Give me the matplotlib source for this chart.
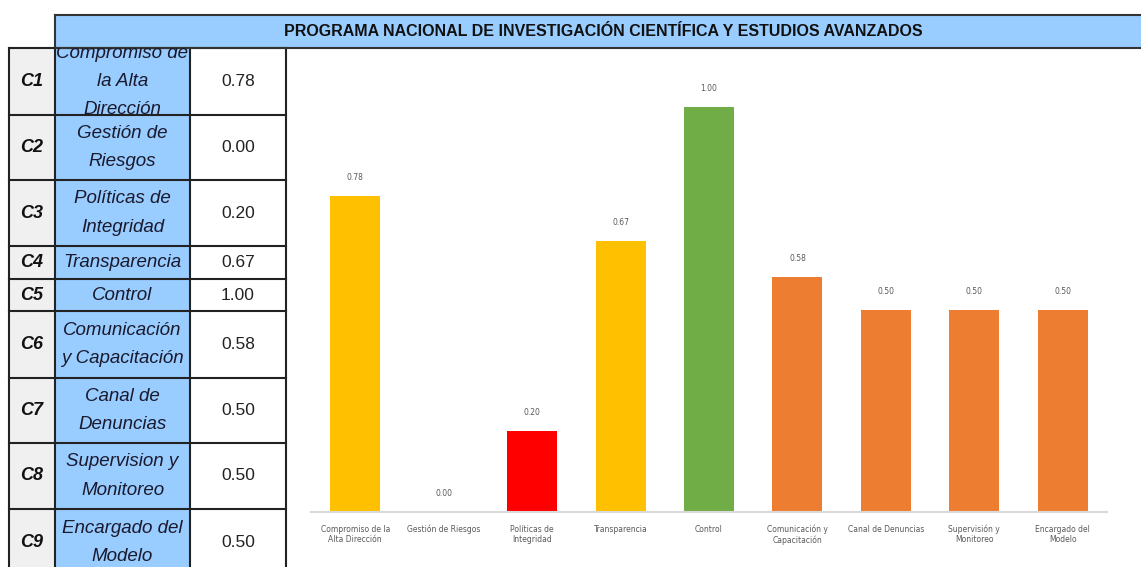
import numpy as np
import matplotlib.pyplot as plt
from matplotlib.patches import Rectangle
from matplotlib.transforms import Bbox

titulo = 'PROGRAMA NACIONAL DE INVESTIGACIÓN CIENTÍFICA Y ESTUDIOS AVANZADOS'
codigos = ['C1', 'C2', 'C3', 'C4', 'C5', 'C6', 'C7', 'C8', 'C9']
nombres_tabla = ['Compromiso de\nla Alta\nDirección', 'Gestión de\nRiesgos', 'Políticas de\nIntegridad',
                 'Transparencia', 'Control', 'Comunicación\ny Capacitación', 'Canal de\nDenuncias',
                 'Supervision y\nMonitoreo', 'Encargado del\nModelo']
etiquetas = ['Compromiso de la\nAlta Dirección', 'Gestión de Riesgos', 'Políticas de\nIntegridad',
             'Transparencia', 'Control', 'Comunicación y\nCapacitación', 'Canal de Denuncias',
             'Supervisión y\nMonitoreo', 'Encargado del\nModelo']
valores = [0.78, 0.00, 0.20, 0.67, 1.00, 0.58, 0.50, 0.50, 0.50]
colores = ['#FFC000', '#FFC000', '#FF0000', '#FFC000', '#70AD47',
           '#ED7D31', '#ED7D31', '#ED7D31', '#ED7D31']

W, H = 1141, 567
fig = plt.figure(figsize=(W / 100, H / 100), dpi=100)

# capa de la tabla en pixeles
tab = fig.add_axes([0, 0, 1, 1])
tab.set_xlim(0, W)
tab.set_ylim(H, 0)
tab.axis('off')

narrow = ['Liberation Sans Narrow', 'Liberation Sans', 'DejaVu Sans']
azul = '#99CCFF'

filas = [48, 115, 180, 246, 279, 311, 378, 443, 509, 576]
cols = [9, 55, 190, 286]
for i in range(len(codigos)):
    y0, y1 = filas[i], filas[i + 1]
    yc = (y0 + y1) / 2
    tab.add_patch(Rectangle((cols[0], y0), cols[1] - cols[0], y1 - y0, fc='#F0F0F0', ec='none'))
    tab.add_patch(Rectangle((cols[1], y0), cols[2] - cols[1], y1 - y0, fc=azul, ec='none'))
    tab.text((cols[0] + cols[1]) / 2, yc, codigos[i], ha='center', va='center', fontsize=13,
             fontweight='bold', style='italic', family=narrow, color='#111111')
    t = tab.text((cols[1] + cols[2]) / 2, yc, nombres_tabla[i], ha='center', va='center',
                 fontsize=13.5, style='italic', family=narrow, color='#1a1a2e', linespacing=1.85)
    # recorte del texto a la celda (coordenadas de pantalla)
    t.set_clip_path(None)
    t.set_clip_box(Bbox([[cols[1], H - y1], [cols[2], H - y0]]))
    t.set_clip_on(True)
    tab.text((cols[2] + cols[3]) / 2, yc, f'{valores[i]:.2f}', ha='center', va='center',
             fontsize=12.5, family=narrow, color='#222222')

for y in filas:
    tab.plot([cols[0], cols[3]], [y, y], color='#222222', lw=1.5)
for x in cols:
    tab.plot([x, x], [filas[0], H], color='#222222', lw=1.5)

# cabecera
tab.add_patch(Rectangle((55, 15), W - 55, 33, fc=azul, ec='none'))
tab.plot([55, W], [15, 15], color='#333333', lw=1.5)
tab.plot([55, W], [48, 48], color='#333333', lw=1.5)
tab.plot([55, 55], [15, 48], color='#333333', lw=1.5)
tab.text(603, 31.5, titulo, ha='center', va='center', fontsize=11.5, fontweight='bold',
         family=narrow, color='#111111')

# grafico de barras
x0, x1 = 311, 1107
yb, yt = 512, 60
ax = fig.add_axes([x0 / W, 1 - yb / H, (x1 - x0) / W, (yb - yt) / H])
pos = np.arange(len(valores))
ax.bar(pos, valores, width=0.565, color=colores)
ax.set_xlim(-0.5, len(valores) - 0.5)
ax.set_ylim(0, (yb - yt) / 405)
for p, v in zip(pos, valores):
    ax.annotate(f'{v:.2f}', (p, v), xytext=(0, 10), textcoords='offset points', ha='center',
                va='bottom', fontsize=5.5, color='#595959')
ax.set_xticks(pos)
ax.set_xticklabels(etiquetas, fontsize=5.5, color='#595959', va='top')
ax.tick_params(axis='x', length=0, pad=9)
ax.set_yticks([])
for s in ['top', 'right', 'left']:
    ax.spines[s].set_visible(False)
ax.spines['bottom'].set_color('#D9D9D9')
ax.spines['bottom'].set_linewidth(1.5)
ax.patch.set_alpha(0)

fig.savefig('out.png', dpi=100)
